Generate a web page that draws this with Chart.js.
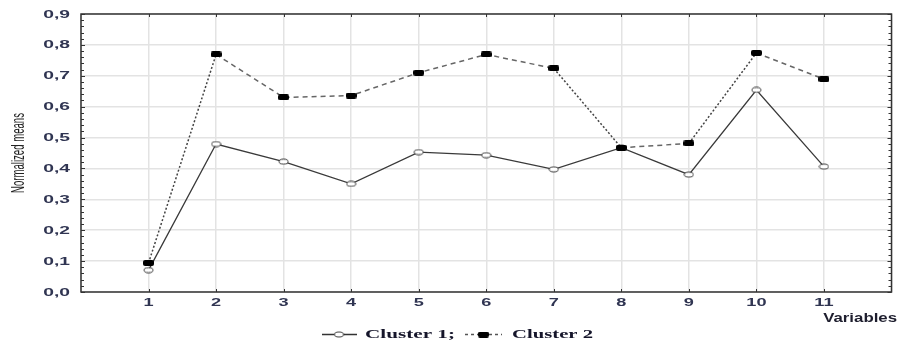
<!DOCTYPE html>
<html><head><meta charset="utf-8">
<script src="https://cdn.jsdelivr.net/npm/chart.js@4/dist/chart.umd.min.js"></script>
<style>html,body{margin:0;padding:0;background:#fff;overflow:hidden}</style>
</head><body>
<canvas id="c" width="899" height="342" style="width:899px;height:342px;display:block"></canvas>
<script>
// ---- data ----
const variables = [1, 2, 3, 4, 5, 6, 7, 8, 9, 10, 11];
const cluster1 = [0.071, 0.479, 0.422, 0.350, 0.453, 0.443, 0.397, 0.467, 0.380, 0.654, 0.406];
const cluster2 = [0.094, 0.769, 0.630, 0.636, 0.710, 0.769, 0.724, 0.467, 0.481, 0.774, 0.689];
const yTicks = [0, 0.1, 0.2, 0.3, 0.4, 0.5, 0.6, 0.7, 0.8, 0.9];
const xGrid = [0, 1, 2, 3, 4, 5, 6, 7, 8, 9, 10, 11, 12];
const seriesNames = ['Cluster 1', 'Cluster 2'];
const yTitle = 'Normalized means';
const xTitle = 'Variables';

// ---- marker images ----
function ellipseImg(w, h) {
  const c = document.createElement('canvas'); c.width = w + 2; c.height = h + 2;
  const g = c.getContext('2d');
  g.beginPath(); g.ellipse(c.width / 2, c.height / 2, w / 2, h / 2, 0, 0, Math.PI * 2);
  g.fillStyle = '#fff'; g.fill(); g.lineWidth = 1; g.strokeStyle = '#333'; g.stroke();
  return c;
}
function blockImg(w, h) {
  const c = document.createElement('canvas'); c.width = w; c.height = h;
  const g = c.getContext('2d');
  g.beginPath(); g.roundRect(0, 0, w, h, 2); g.fillStyle = '#000'; g.fill();
  return c;
}
const mark1 = ellipseImg(9, 5);
const mark2 = blockImg(11, 6);

function sText(ctx, txt, x, y, font, color, sx, align) {
  ctx.save();
  ctx.font = font; ctx.fillStyle = color; ctx.textBaseline = 'middle'; ctx.textAlign = 'left';
  const w = ctx.measureText(txt).width * sx;
  const left = align === 'right' ? x - w : align === 'center' ? x - w / 2 : x;
  ctx.translate(left, y); ctx.scale(sx, 1); ctx.fillText(txt, 0, 0);
  ctx.restore();
}
function fitText(ctx, txt, x, y, font, color, width) {
  ctx.save(); ctx.font = font;
  const sx = width / ctx.measureText(txt).width;
  ctx.restore();
  sText(ctx, txt, x, y, font, color, sx, 'left');
}

const decor = {
  id: 'decor',
  afterDraw(chart) {
    const ctx = chart.ctx, a = chart.chartArea;
    const xs = chart.scales.x, ys = chart.scales.y;
    ctx.save();
    // frame
    ctx.strokeStyle = '#333'; ctx.lineWidth = 1.5;
    ctx.strokeRect(a.left, a.top, a.right - a.left, a.bottom - a.top);
    // tick marks
    ctx.lineWidth = 1;
    ctx.beginPath();
    variables.forEach(v => {
      const px = Math.round(xs.getPixelForValue(v)) + 0.5;
      ctx.moveTo(px, a.top); ctx.lineTo(px, a.top + 3);
      ctx.moveTo(px, a.bottom); ctx.lineTo(px, a.bottom - 3);
    });
    for (let k = 0; k <= 45; k++) {
      const py = Math.round(ys.getPixelForValue(k * 0.02)) + 0.5;
      const len = k % 5 === 0 ? 4 : 3;
      ctx.moveTo(a.left, py); ctx.lineTo(a.left + len, py);
      ctx.moveTo(a.right, py); ctx.lineTo(a.right - len, py);
    }
    ctx.stroke();
    // y tick labels
    yTicks.forEach(v => {
      sText(ctx, v.toFixed(1).replace('.', ','), 70, ys.getPixelForValue(v) + 0.5,
        'bold 11px "Liberation Sans", Arial, sans-serif', '#303552', 1.75, 'right');
    });
    // x tick labels
    variables.forEach(v => {
      sText(ctx, String(v), xs.getPixelForValue(v), 302.5,
        'bold 11px "Liberation Sans", Arial, sans-serif', '#303552', 1.65, 'center');
    });
    // x title
    sText(ctx, xTitle, 897, 318.5, 'bold 12px "Liberation Sans", Arial, sans-serif', '#1e1e2e', 1.4, 'right');
    // y title (rotated)
    ctx.save();
    ctx.font = '10px "Liberation Sans", Arial, sans-serif';
    const tw = ctx.measureText(yTitle).width;
    ctx.translate(19, 153); ctx.rotate(-Math.PI / 2); ctx.scale(80 / tw, 1.9);
    ctx.fillStyle = '#222'; ctx.textAlign = 'center'; ctx.textBaseline = 'middle';
    ctx.fillText(yTitle, 0, 0);
    ctx.restore();
    // legend
    const ly = 334.5;
    ctx.strokeStyle = '#333'; ctx.lineWidth = 1.3; ctx.setLineDash([]);
    ctx.beginPath(); ctx.moveTo(322, ly); ctx.lineTo(357, ly); ctx.stroke();
    ctx.drawImage(mark1, 339 - mark1.width / 2, ly - mark1.height / 2);
    fitText(ctx, seriesNames[0] + ';', 365, ly + 0.5, 'bold 13px "Liberation Serif", "Times New Roman", serif', '#15152a', 90);
    ctx.strokeStyle = '#555'; ctx.setLineDash([3, 3]);
    ctx.beginPath(); ctx.moveTo(465, ly); ctx.lineTo(502, ly); ctx.stroke();
    ctx.setLineDash([]);
    ctx.drawImage(mark2, 483 - mark2.width / 2 + 0.5, ly - mark2.height / 2);
    fitText(ctx, seriesNames[1], 512, ly + 0.5, 'bold 13px "Liberation Serif", "Times New Roman", serif', '#15152a', 81);
    ctx.restore();
  }
};

new Chart(document.getElementById('c'), {
  type: 'line',
  data: {
    datasets: [
      {
        label: seriesNames[0],
        data: variables.map((v, i) => ({ x: v, y: cluster1[i] })),
        borderColor: '#3a3a3a', borderWidth: 1.3,
        pointStyle: mark1, pointRadius: 5, tension: 0, order: 1
      },
      {
        label: seriesNames[1],
        data: variables.map((v, i) => ({ x: v, y: cluster2[i] })),
        borderColor: '#555', borderWidth: 1.5,
        segment: {
          borderDash: c => Math.abs(c.p1.parsed.y - c.p0.parsed.y) > 0.2 ? [2, 2] : [5, 4],
          borderColor: c => Math.abs(c.p1.parsed.y - c.p0.parsed.y) > 0.2 ? '#444' : '#666'
        },
        pointStyle: mark2, pointRadius: 6, tension: 0, order: 0
      }
    ]
  },
  options: {
    responsive: false, animation: false, devicePixelRatio: 1,
    layout: { padding: { top: 14, right: 1, left: 0, bottom: 18 } },
    plugins: { legend: { display: false }, tooltip: { enabled: false } },
    scales: {
      x: {
        type: 'linear', min: 0, max: 12,
        afterBuildTicks: s => { s.ticks = xGrid.map(v => ({ value: v })); },
        afterFit: s => { s.height = 32; },
        grid: { color: '#e3e3e3', lineWidth: 1.5, drawTicks: false },
        border: { display: false },
        ticks: { display: false }
      },
      y: {
        min: 0, max: 0.9,
        afterBuildTicks: s => { s.ticks = yTicks.map(v => ({ value: v })); },
        afterFit: s => { s.width = 81; },
        grid: { color: '#e3e3e3', lineWidth: 1.5, drawTicks: false },
        border: { display: false },
        ticks: { display: false }
      }
    }
  },
  plugins: [decor]
});
</script>
</body></html>
